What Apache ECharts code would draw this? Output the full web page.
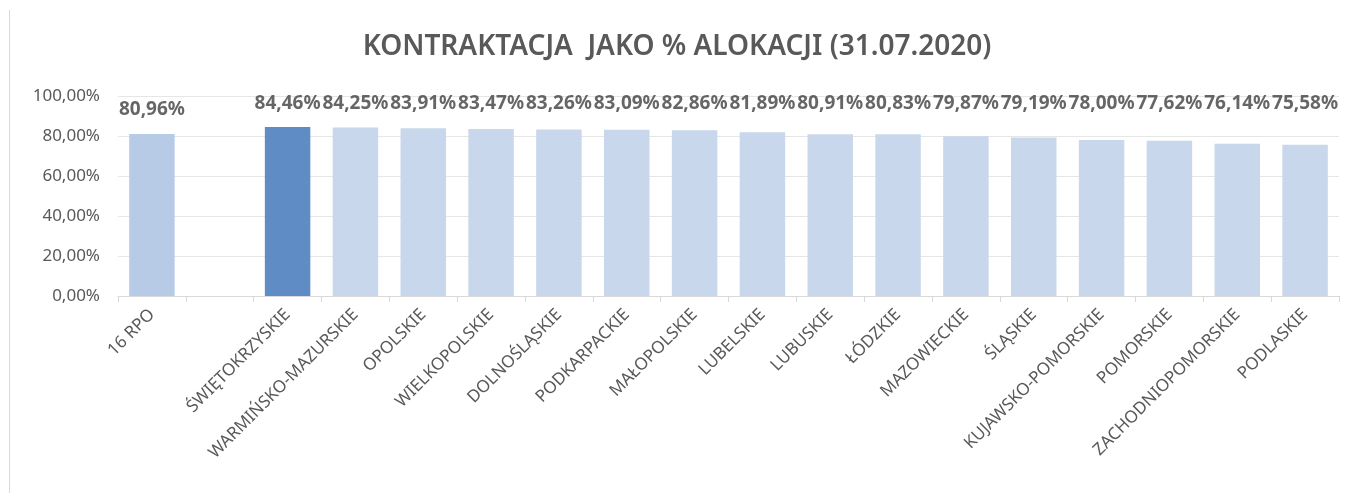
<!DOCTYPE html>
<html>
<head>
<meta charset="utf-8">
<script src="https://cdn.jsdelivr.net/npm/echarts@6/dist/echarts.min.js"></script>
<style>
    html, body { margin: 0; padding: 0; background: #fff; }
    #main { width: 1354px; height: 493px; }
</style>
</head>
<body>
<div id="main"></div>
<script>
// dane
var categories = ['16 RPO', '', 'ŚWIĘTOKRZYSKIE', 'WARMIŃSKO-MAZURSKIE', 'OPOLSKIE', 'WIELKOPOLSKIE',
    'DOLNOŚLĄSKIE', 'PODKARPACKIE', 'MAŁOPOLSKIE', 'LUBELSKIE', 'LUBUSKIE', 'ŁÓDZKIE',
    'MAZOWIECKIE', 'ŚLĄSKIE', 'KUJAWSKO-POMORSKIE', 'POMORSKIE', 'ZACHODNIOPOMORSKIE', 'PODLASKIE'];
var values = [80.96, null, 84.46, 84.25, 83.91, 83.47, 83.26, 83.09, 82.86, 81.89, 80.91, 80.83,
    79.87, 79.19, 78.00, 77.62, 76.14, 75.58];
var yTicks = [0, 20, 40, 60, 80, 100];

var chart = echarts.init(document.getElementById('main'));

function fmt(v) {
    return v.toFixed(2).replace('.', ',') + '%';
}

// kolory slupkow
function barColor(i) {
    if (i === 0) return '#b7cbe6';
    if (i === 2) return '#5f8cc4';
    return '#c8d7eb';
}

// etykiety wartosci na stalej wysokosci (jak w oryginale)
var labelPoints = [];
for (var i = 0; i < values.length; i++) {
    if (values[i] === null) {
        labelPoints.push(null);
    } else {
        labelPoints.push(i === 0 ? 93 : 96);
    }
}

var option = {
    backgroundColor: '#fff',
    animation: false,
    title: {
        text: 'KONTRAKTACJA  JAKO % ALOKACJI (31.07.2020)',
        left: 'center',
        top: 28,
        textStyle: {
            fontFamily: 'Noto Sans',
            fontSize: 28,
            fontWeight: 600,
            color: '#595959'
        }
    },
    graphic: [{
        type: 'line',
        shape: { x1: 9.5, y1: 10, x2: 9.5, y2: 493 },
        style: { stroke: '#d9d9d9', lineWidth: 1 }
    }],
    grid: {
        left: 118,
        right: 15,
        top: 96,
        bottom: 197
    },
    xAxis: {
        type: 'category',
        data: categories,
        axisLine: { lineStyle: { color: '#d9d9d9' } },
        axisTick: { show: true, alignWithLabel: false, length: 6, lineStyle: { color: '#d9d9d9' } },
        axisLabel: {
            interval: 0,
            rotate: 45,
            margin: 16,
            fontFamily: 'Noto Sans',
            fontSize: 17,
            color: '#595959'
        }
    },
    yAxis: {
        type: 'value',
        min: yTicks[0],
        max: yTicks[yTicks.length - 1],
        interval: 20,
        axisLine: { show: false },
        axisTick: { show: false },
        splitLine: { lineStyle: { color: '#e6e6e6' } },
        axisLabel: {
            margin: 18,
            fontFamily: 'Noto Sans',
            fontSize: 17,
            color: '#595959',
            formatter: function (v) { return fmt(v); }
        }
    },
    series: [
        {
            type: 'bar',
            data: values.map(function (v, i) {
                return { value: v, itemStyle: { color: barColor(i) } };
            }),
            barWidth: '67%',
            z: 2
        },
        {
            type: 'scatter',
            data: labelPoints,
            symbolSize: 0,
            silent: true,
            z: 5,
            label: {
                show: true,
                position: 'inside',
                fontFamily: 'Noto Sans',
                fontSize: 19,
                fontWeight: 'bold',
                color: '#404040',
                formatter: function (p) { return fmt(values[p.dataIndex]); }
            }
        }
    ]
};

option && chart.setOption(option);
</script>
</body>
</html>
